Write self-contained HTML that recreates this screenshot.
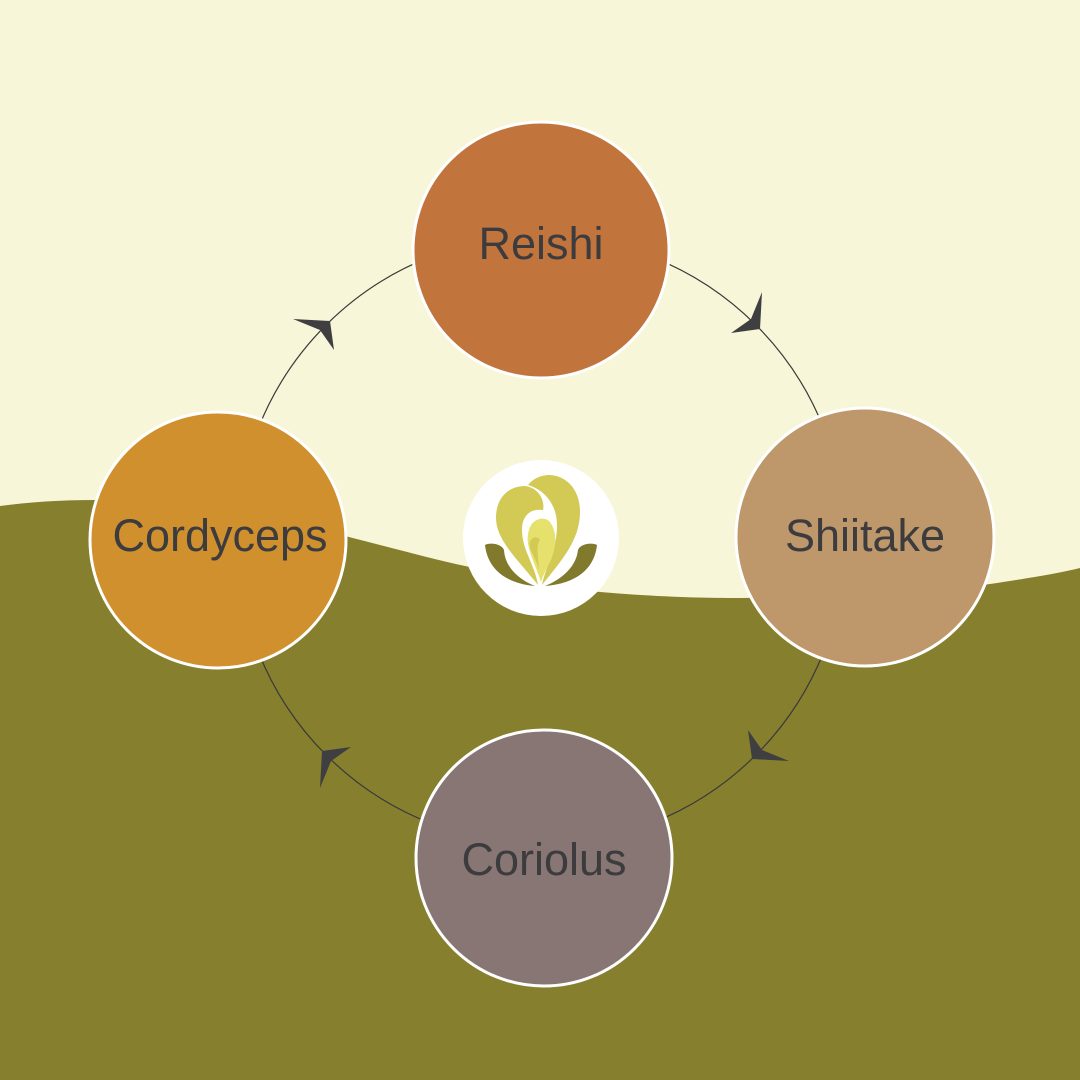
<!DOCTYPE html>
<html><head><meta charset="utf-8"><style>
html,body{margin:0;padding:0;width:1080px;height:1080px;overflow:hidden;background:#F8F6D8}
svg{display:block}
text{font-family:"Liberation Sans",sans-serif;font-size:45px;fill:#3c3c3e;text-anchor:middle}
</style></head><body>
<svg width="1080" height="1080" viewBox="0 0 1080 1080">
<rect width="1080" height="1080" fill="#F8F6D8"/>
<path d="M0,506 C30,502 60,500 95,500 C200,505 280,518 345,536 C400,550 440,561 470,567 C520,580 560,588 600,592 C660,597 700,598 740,598 C850,597 930,592 990,584 C1030,578 1060,573 1080,568 L1080,1080 L0,1080 Z" fill="#867F2D"/>
<g fill="none" stroke="#3a3a3a" stroke-width="1.2">
<circle cx="541" cy="540" r="304"/>
</g>
<g fill="#3f3f42">
<path id="ah" d="M762,292 L760,329 L731,333 L751,319 Z"/>
<use href="#ah" transform="rotate(90 541 540)"/>
<use href="#ah" transform="rotate(180 541 540)"/>
<use href="#ah" transform="rotate(270 541 540)"/>
</g>
<g stroke="#fff" stroke-width="3">
<circle cx="541" cy="250" r="128" fill="#C2743D"/>
<circle cx="865" cy="537" r="129" fill="#BE986A"/>
<circle cx="544" cy="858" r="128" fill="#877673"/>
<circle cx="218" cy="540" r="128" fill="#D0902E"/>
</g>
<circle cx="541" cy="538" r="78" fill="#fff"/>
<g transform="translate(450 450)">
<path d="M35,95 C38,122 60,134 85,136 C70,130 55,118 54,100 C52,94 40,92 35,95 Z" fill="#817A2C"/>
<path d="M147,95 C144,122 122,134 95,136 C110,130 126,118 128,100 C130,94 142,92 147,95 Z" fill="#817A2C"/>
<path d="M88,135 C68,110 46,90 46,68 C46,46 60,36 75,36 C90,38 95,52 93,60 C80,58 72,66 72,80 C72,100 85,115 88,135 Z" fill="#D3CA55"/>
<path d="M92,135 C112,110 130,90 130,62 C130,40 117,26 100,25 C89,25 82,30 78,35 C95,40 107,55 107,75 C107,100 96,115 92,135 Z" fill="#D3CA55"/>
<path d="M91,132 C84,110 74,95 79,80 C82,69 93,66 99,71 C107,80 107,95 101,110 C97,118 93,125 91,132 Z" fill="#E6E06C"/>
<path d="M89,120 C85,105 78,100 80,92 C82,86 88,86 90,90 C86,95 88,105 89,120 Z" fill="#D3CA55"/>
</g>
<text x="541" y="259">Reishi</text>
<text x="865" y="551">Shiitake</text>
<text x="544" y="875">Coriolus</text>
<text x="220" y="551">Cordyceps</text>
</svg>
</body></html>
